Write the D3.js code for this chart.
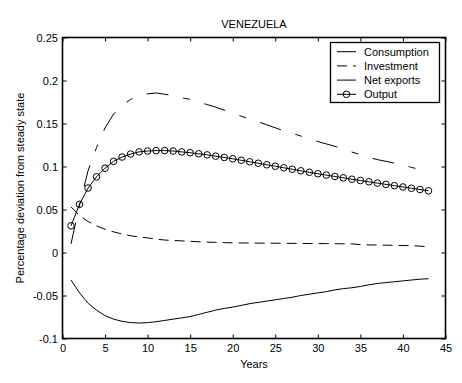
<!DOCTYPE html>
<html><head><meta charset="utf-8">
<script src="https://cdn.jsdelivr.net/npm/d3@7"></script>
<style>body{margin:0;background:#fff}svg{display:block}text{font-family:"Liberation Sans",Arial,sans-serif;font-size:11px;fill:#000}</style>
</head><body>
<script>
const years = d3.range(1, 44);
const consumption = [0.010,0.055,0.095,0.122,0.145,0.161,0.171,0.178,0.182,0.1845,0.1855,0.184,0.1825,0.180,0.178,0.175,0.172,0.169,0.1655,0.162,0.1585,0.155,0.152,0.1485,0.145,0.1415,0.1385,0.1355,0.1325,0.129,0.1262,0.1235,0.1205,0.1168,0.1138,0.1105,0.108,0.106,0.1038,0.1015,0.099,0.0965,0.094];
const investment = [0.053,0.043,0.036,0.031,0.027,0.024,0.0215,0.0195,0.018,0.017,0.0155,0.0145,0.014,0.0135,0.013,0.0125,0.012,0.0118,0.0115,0.0112,0.0111,0.011,0.0109,0.0108,0.0108,0.0107,0.0106,0.0105,0.0104,0.0104,0.0103,0.0102,0.0101,0.0100,0.0092,0.0088,0.0087,0.0085,0.0083,0.0081,0.0079,0.0074,0.0068];
const netExports = [-0.032,-0.047,-0.059,-0.067,-0.0735,-0.0775,-0.080,-0.0815,-0.082,-0.0815,-0.0805,-0.079,-0.0775,-0.076,-0.0745,-0.072,-0.0695,-0.067,-0.065,-0.0635,-0.0615,-0.0595,-0.058,-0.0565,-0.055,-0.0535,-0.052,-0.050,-0.0485,-0.047,-0.0455,-0.0435,-0.042,-0.041,-0.0395,-0.0375,-0.036,-0.035,-0.034,-0.033,-0.032,-0.031,-0.0305];
const output = [0.031,0.056,0.075,0.088,0.098,0.106,0.111,0.1145,0.117,0.118,0.1185,0.1185,0.118,0.117,0.116,0.1148,0.1135,0.112,0.1105,0.109,0.1072,0.1055,0.1038,0.102,0.1003,0.0985,0.0968,0.095,0.0933,0.0916,0.090,0.0884,0.0868,0.0852,0.0837,0.0822,0.0807,0.0792,0.0777,0.0762,0.0747,0.0732,0.0717];
const xTicks = [0,5,10,15,20,25,30,35,40,45];
const yTicks = [-0.1,-0.05,0,0.05,0.1,0.15,0.2,0.25];
const yTickLabels = ["-0.1","-0.05","0","0.05","0.1","0.15","0.2","0.25"];
const seriesNames = ["Consumption","Investment","Net exports","Output"];
const titleText = "VENEZUELA";
const xLabel = "Years";
const yLabel = "Percentage deviation from steady state";

const W = 462, H = 383;
const L = 62.5, R = 445.5, T = 37.5, B = 338.5;
const svg = d3.select("body").append("svg").attr("width", W).attr("height", H);
const x = d3.scaleLinear().domain([0,45]).range([L,R]);
const y = d3.scaleLinear().domain([-0.1,0.25]).range([B,T]);

const styles = [
  {dash:"22,15,7,15", marker:false},
  {dash:"10,6", marker:false},
  {dash:null, marker:false},
  {dash:null, marker:true}
];
const data = [consumption, investment, netExports, output];

const tl = 4;
const gx = svg.append("g").attr("transform",`translate(0,${B})`)
  .call(d3.axisBottom(x).tickValues(xTicks).tickSizeInner(-tl).tickSizeOuter(0).tickPadding(4).tickFormat(d3.format("d")))
  .call(g=>g.select(".domain").remove());
gx.selectAll(".tick text").attr("y",5.5);
svg.append("g").attr("transform",`translate(0,${T})`)
  .call(d3.axisTop(x).tickValues(xTicks).tickSizeInner(-tl).tickSizeOuter(0).tickFormat(""))
  .call(g=>g.select(".domain").remove());
const gy = svg.append("g").attr("transform",`translate(${L},0)`)
  .call(d3.axisLeft(y).tickValues(yTicks).tickSizeInner(-tl).tickSizeOuter(0).tickPadding(4).tickFormat((d,i)=>yTickLabels[i]))
  .call(g=>g.select(".domain").remove());
gy.selectAll(".tick text").attr("x",-4.5);
svg.append("g").attr("transform",`translate(${R},0)`)
  .call(d3.axisRight(y).tickValues(yTicks).tickSizeInner(-tl).tickSizeOuter(0).tickFormat(""))
  .call(g=>g.select(".domain").remove());
svg.selectAll(".tick line").attr("stroke","#000");
svg.selectAll(".tick text").style("font-size","11px").style("font-family","'Liberation Sans',Arial,sans-serif").attr("fill","#000");

const line = d3.line().x((d,i)=>x(years[i])).y(d=>y(d));
data.forEach((arr,k)=>{
  const p = svg.append("path").datum(arr).attr("d",line).attr("fill","none").attr("stroke","#000").attr("stroke-width",1);
  if (styles[k].dash) p.attr("stroke-dasharray",styles[k].dash);
  if (styles[k].marker) {
    svg.append("g").selectAll("circle").data(arr).join("circle")
      .attr("cx",(d,i)=>x(years[i])).attr("cy",d=>y(d)).attr("r",3.3)
      .attr("fill","none").attr("stroke","#000").attr("stroke-width",1);
  }
});

svg.append("rect").attr("x",L).attr("y",T).attr("width",R-L).attr("height",B-T)
  .attr("fill","none").attr("stroke","#000").attr("stroke-width",1.6);

const lg = svg.append("g");
lg.append("rect").attr("x",330.5).attr("y",42.5).attr("width",109).attr("height",60)
  .attr("fill","#fff").attr("stroke","#000").attr("stroke-width",1.3);
seriesNames.forEach((n,k)=>{
  const cy = 51.7 + k*14.2;
  const l = lg.append("line").attr("x1",337).attr("x2",356).attr("y1",cy).attr("y2",cy).attr("stroke","#000").attr("stroke-width",1);
  if (styles[k].dash) l.attr("stroke-dasharray",styles[k].dash);
  if (styles[k].marker) lg.append("circle").attr("cx",346.5).attr("cy",cy).attr("r",3.3).attr("fill","none").attr("stroke","#000");
  lg.append("text").attr("x",364).attr("y",cy+4).text(n);
});

svg.append("text").attr("x",(L+R)/2).attr("y",28.3).attr("text-anchor","middle").text(titleText);
svg.append("text").attr("x",(L+R)/2).attr("y",368.3).attr("text-anchor","middle").text(xLabel);
svg.append("text").attr("transform",`translate(23.5,${(T+B)/2}) rotate(-90)`).attr("text-anchor","middle").text(yLabel);
</script>
</body></html>
